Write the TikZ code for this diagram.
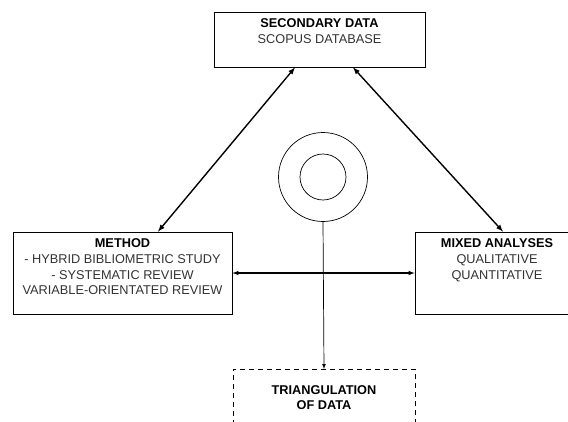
\documentclass[tikz,border=0pt]{standalone}
\usepackage{fontspec}
\setmainfont{Liberation Sans}
\usetikzlibrary{positioning}
\tikzset{>=latex}
\tikzset{box/.style={draw, rectangle, line width=0.8bp, inner sep=0pt},
         txt/.style={align=center, inner sep=0pt, font=\fontsize{12.8}{15.8}\selectfont, text=black!80},
         ring/.style={draw, circle, line width=0.7bp, inner sep=0pt}}

\begin{document}
\begin{tikzpicture}[x=1bp,y=-1bp]
\clip (0,0) rectangle (568,421);
\fill[white] (0,0) rectangle (568,421);
% boxes
\node [box, minimum width=211bp, minimum height=55bp] (secondary) at (319.5,39.5) {};
\node [box, minimum width=219bp, minimum height=82bp] (method) at (122.5,273) {};
\node [box, minimum width=164bp, minimum height=82bp] (mixed) at (497,273) {};
\node [box, dashed, dash pattern=on 5bp off 4bp, minimum width=182bp, minimum height=80bp, anchor=north] (triang) at (324,369) {};
% texts
\node [txt, below=7bp of secondary.north] (secondarytxt) {\textbf{\textcolor{black}{SECONDARY DATA}}\\SCOPUS DATABASE};
\node [txt, below=7bp of method.north] (methodtxt) {\textbf{\textcolor{black}{METHOD}}\\- HYBRID BIBLIOMETRIC STUDY\\- SYSTEMATIC REVIEW\\VARIABLE-ORIENTATED REVIEW};
\node [txt, below=7bp of mixed.north] (mixedtxt) {\textbf{\textcolor{black}{MIXED ANALYSES}}\\QUALITATIVE\\QUANTITATIVE};
\node [txt, below=16bp of triang.north] (triangtxt) {\textbf{\textcolor{black}{TRIANGULATION}}\\\textbf{\textcolor{black}{OF DATA}}};
% centre
\node [ring, minimum size=89bp] (outer) at (323,177) {};
\node [ring, minimum size=46bp] (inner) at (323,177) {};
% connectors
\draw [<->, line width=1.4bp] ([xshift=-24.5bp]secondary.south) -- ([xshift=35.5bp]method.north);
\draw [<->, line width=1.4bp] ([xshift=33.5bp]secondary.south) -- ([xshift=6bp]mixed.north);
\draw [<->, line width=1.1bp] (method.east) -- (mixed.west);
\draw [->, line width=0.7bp] (outer.south) -- (triang.north);
\end{tikzpicture}
\end{document}
